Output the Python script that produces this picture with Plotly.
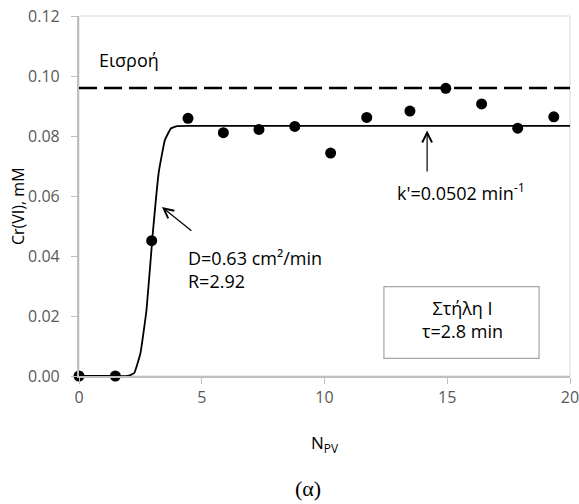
import plotly.graph_objects as go

# Measured data
npv = [0.0, 1.48, 2.96, 4.44, 5.88, 7.33, 8.79, 10.25, 11.72, 13.48, 14.94, 16.40, 17.87, 19.34]
cr = [0.0, 0.0, 0.0451, 0.0859, 0.0811, 0.0822, 0.0832, 0.0743, 0.0862, 0.0883, 0.0959, 0.0907, 0.0826, 0.0864]

# Model curve
model_x = [0.0, 0.5, 1.0, 1.5, 2.0, 2.25, 2.5, 2.75, 3.0, 3.25, 3.5, 3.75, 4.0, 4.5, 5, 6, 8, 10, 12, 14, 16, 18, 20]
model_y = [0.0, 0.0, 0.0, 0.0, 0.0, 0.0010, 0.0075, 0.022, 0.047, 0.068, 0.0787, 0.0826, 0.0833, 0.0834,
           0.0834, 0.0834, 0.0834, 0.0834, 0.0834, 0.0834, 0.0834, 0.0834, 0.0834]

# Inflow concentration
inflow_x = [0, 20]
inflow_y = [0.096, 0.096]

x_ticks = [0, 5, 10, 15, 20]
y_ticks = [0.00, 0.02, 0.04, 0.06, 0.08, 0.10, 0.12]
y_tick_text = ["0.00", "0.02", "0.04", "0.06", "0.08", "0.10", "0.12"]

FONT = "Open Sans"
FS_TICK = 16
FS = 18

fig = go.Figure()
fig.add_trace(go.Scatter(x=inflow_x, y=inflow_y, mode="lines",
                         line=dict(color="black", width=2.5, dash="18px,7px"), showlegend=False))
fig.add_trace(go.Scatter(x=model_x, y=model_y, mode="lines",
                         line=dict(color="black", width=1.8, shape="spline", smoothing=0.3), showlegend=False))
fig.add_trace(go.Scatter(x=npv, y=cr, mode="markers",
                         marker=dict(color="black", size=11), showlegend=False, cliponaxis=False))

fig.update_layout(
    width=579, height=504,
    margin=dict(l=79, r=9, t=16, b=128),
    paper_bgcolor="white", plot_bgcolor="white",
    font=dict(family=FONT, color="black"),
    showlegend=False,
)
fig.update_xaxes(range=[0, 20], tickvals=x_ticks, ticks="outside", ticklen=6, tickcolor="#bfbfbf",
                 showgrid=False, zeroline=False, showline=True, linecolor="#bfbfbf", linewidth=1.5,
                 mirror=False, automargin=False, ticklabeloverflow="allow",
                 tickfont=dict(size=FS_TICK, color="#595959", family=FONT))
fig.update_yaxes(range=[0, 0.12], tickvals=y_ticks,
                 ticktext=[t + "\u00a0\u00a0" for t in y_tick_text], ticks="outside", ticklen=6,
                 tickcolor="#bfbfbf", showgrid=False, zeroline=False, showline=True, linecolor="#bfbfbf",
                 linewidth=1.5, automargin=False, ticklabeloverflow="allow",
                 tickfont=dict(size=FS_TICK, color="#595959", family=FONT))

# Plot-area frame (top and right)
fig.add_shape(type="rect", xref="paper", yref="paper", x0=0, x1=1, y0=0, y1=1,
              line=dict(color="#d9d9d9", width=1), layer="below")

# Parameter box
fig.add_shape(type="rect", xref="x", yref="y", x0=12.42, x1=18.74, y0=0.0059, y1=0.0298,
              line=dict(color="#a6a6a6", width=1.2), fillcolor="white")

fig.add_annotation(xref="paper", yref="paper", x=(129 - 79) / 491, y=(376 - 60) / 360,
                   text="Εισροή", showarrow=False, xanchor="center", yanchor="middle",
                   font=dict(size=FS, color="black"))
# D arrow
fig.add_annotation(xref="x", yref="y", x=3.38, y=0.0563, ax=4.64, ay=0.048, axref="x", ayref="y",
                   text="", showarrow=True, arrowhead=5, arrowsize=1.6, arrowwidth=1.2, arrowcolor="black")
fig.add_annotation(xref="x", yref="y", x=(186 - 79) / 24.55, y=(376 - 269) / 3000,
                   text="D=0.63 cm²/min<br>R=2.92", showarrow=False, align="left",
                   xanchor="left", yanchor="middle", font=dict(size=FS, color="black"))
# k' arrow
fig.add_annotation(xref="x", yref="y", x=14.18, y=0.0818, ax=14.18, ay=0.0677, axref="x", ayref="y",
                   text="", showarrow=True, arrowhead=5, arrowsize=1.6, arrowwidth=1.2, arrowcolor="black")
fig.add_annotation(xref="x", yref="y", x=(460.5 - 79) / 24.55, y=(376 - 192) / 3000,
                   text="k'=0.0502 min<sup>-1</sup>", showarrow=False, xanchor="center", yanchor="middle",
                   font=dict(size=FS, color="black"))
# Box text
fig.add_annotation(xref="x", yref="y", x=(462 - 79) / 24.55, y=(376 - 319) / 3000,
                   text="Στήλη I<br>τ=2.8 min", showarrow=False, xanchor="center", yanchor="middle",
                   font=dict(size=FS, color="black"))
# Axis titles
fig.add_annotation(xref="paper", yref="paper", x=(325 - 79) / 491, y=(376 - 443) / 360,
                   text="N<sub>PV</sub>", showarrow=False, xanchor="center", yanchor="middle",
                   font=dict(size=17, color="black"))
fig.add_annotation(xref="paper", yref="paper", x=(18 - 79) / 491, y=(376 - 206) / 360,
                   text="Cr(VI), mM", showarrow=False, textangle=-90, xanchor="center", yanchor="middle",
                   font=dict(size=16, color="black"))
fig.add_annotation(xref="paper", yref="paper", x=(308 - 79) / 491, y=(376 - 488) / 360,
                   text="(α)", showarrow=False, xanchor="center", yanchor="middle",
                   font=dict(size=22, color="black", family="Liberation Serif"))

fig.write_html("out.html", config={"displayModeBar": False},
               post_script="document.body.style.margin='0';")
